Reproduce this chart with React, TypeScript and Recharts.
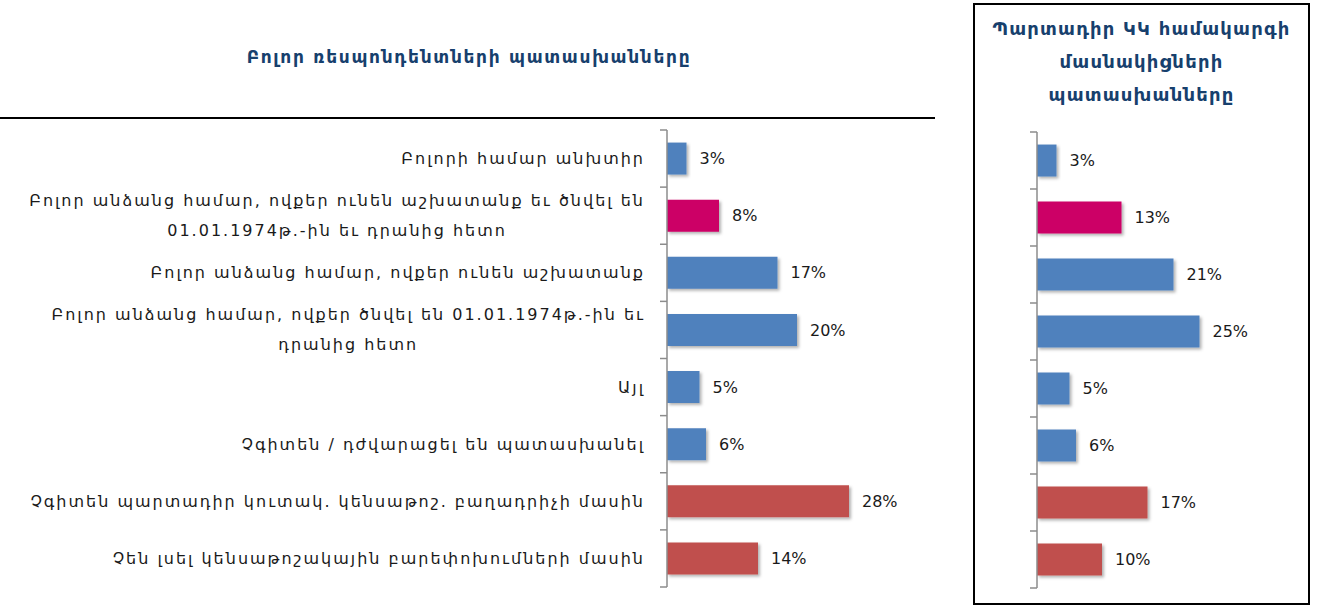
import React from 'react'
import { BarChart, Bar, XAxis, YAxis, Cell, LabelList } from 'recharts'

// answer options (\n marks where the original label wraps)
const categories = [
  'Բոլորի համար անխտիր',
  'Բոլոր անձանց համար, ովքեր ունեն աշխատանք եւ ծնվել են\n01.01.1974թ.-ին եւ դրանից հետո',
  'Բոլոր անձանց համար, ովքեր ունեն աշխատանք',
  'Բոլոր անձանց համար, ովքեր ծնվել են 01.01.1974թ.-ին եւ\nդրանից հետո',
  'Այլ',
  'Չգիտեն / դժվարացել են պատասխանել',
  'Չգիտեն պարտադիր կուտակ. կենսաթոշ. բաղադրիչի մասին',
  'Չեն լսել կենսաթոշակային բարեփոխումների մասին',
]

const allRespondents = [3, 8, 17, 20, 5, 6, 28, 14]
const pensionParticipants = [3, 13, 21, 25, 5, 6, 17, 10]

const leftTitle = 'Բոլոր ռեսպոնդենտների պատասխանները'
const rightTitle = ['Պարտադիր ԿԿ համակարգի', 'մասնակիցների', 'պատասխանները']

const BLUE = '#4f81bd'
const MAGENTA = '#cc0066'
const RED = '#c0504d'
const barColors = [BLUE, MAGENTA, BLUE, BLUE, BLUE, BLUE, RED, RED]

const FONT = '"DejaVu Sans", sans-serif'
const TITLE_COLOR = '#17406d'
const AXIS_COLOR = '#8c8c8c'

const leftData = categories.map((name, i) => ({ name, value: allRespondents[i] }))
const rightData = categories.map((name, i) => ({ name, value: pensionParticipants[i] }))

let ctx: CanvasRenderingContext2D | null = null
function measure(text: string, font: string) {
  if (!ctx) ctx = document.createElement('canvas').getContext('2d')
  if (!ctx) return text.length * 9
  ctx.font = font
  return ctx.measureText(text).width
}

const LABEL_SIZE = 16
const LABEL_SPACING = 2

function CategoryTick(props: any) {
  const { x, y, payload, index, showText, bandHalf } = props
  const half = payload?.offset ?? bandHalf
  const axisX = x + 8
  const lines: string[] = String(payload.value).split('\n')
  const font = `${LABEL_SIZE}px "DejaVu Sans"`
  const widths = lines.map((l) => measure(l, font) + l.length * LABEL_SPACING)
  const maxW = Math.max(...widths)
  const right = axisX - 22
  const lh = 30
  const top = y - ((lines.length - 1) * lh) / 2
  return (
    <g>
      <line x1={axisX - 7} x2={axisX} y1={y - half} y2={y - half} stroke={AXIS_COLOR} strokeWidth={1.5} />
      {index === categories.length - 1 && (
        <line x1={axisX - 7} x2={axisX} y1={y + half} y2={y + half} stroke={AXIS_COLOR} strokeWidth={1.5} />
      )}
      {showText &&
        lines.map((l, i) => (
          <text
            key={i}
            x={right - maxW / 2}
            y={top + i * lh}
            textAnchor="middle"
            dominantBaseline="central"
            fontSize={LABEL_SIZE}
            fontFamily={FONT}
            letterSpacing={LABEL_SPACING}
            fill="#1a1a1a"
          >
            {l}
          </text>
        ))}
    </g>
  )
}

function ShadowDefs({ id }: { id: string }) {
  return (
    <defs>
      <filter id={id} x="-10%" y="-20%" width="130%" height="160%">
        <feDropShadow dx="2" dy="2" stdDeviation="1.5" floodColor="#000" floodOpacity="0.3" />
      </filter>
    </defs>
  )
}

function ResponseBars({
  data,
  width,
  height,
  axisWidth,
  margin,
  showText,
  shadowId,
}: {
  data: { name: string; value: number }[]
  width: number
  height: number
  axisWidth: number
  margin: { top: number; right: number; bottom: number; left: number }
  showText: boolean
  shadowId: string
}) {
  const bandHalf = (height - margin.top - margin.bottom) / data.length / 2
  return (
    <BarChart
      layout="vertical"
      width={width}
      height={height}
      data={data}
      margin={margin}
      barCategoryGap="22%"
    >
      <ShadowDefs id={shadowId} />
      <XAxis type="number" domain={[0, 40]} hide />
      <YAxis
        type="category"
        dataKey="name"
        width={axisWidth}
        axisLine={{ stroke: AXIS_COLOR, strokeWidth: 1.5 }}
        tickLine={false}
        interval={0}
        tick={<CategoryTick showText={showText} bandHalf={bandHalf} />}
      />
      <Bar dataKey="value" isAnimationActive={false} filter={`url(#${shadowId})`}>
        {data.map((_, i) => (
          <Cell key={i} fill={barColors[i]} />
        ))}
        <LabelList
          dataKey="value"
          position="right"
          offset={13}
          fontSize={16}
          fontFamily={FONT}
          fill="#1a1a1a"
          formatter={(v: any) => `${v}%`}
        />
      </Bar>
    </BarChart>
  )
}

export default function App() {
  return (
    <div
      style={{
        position: 'absolute',
        left: 0,
        top: 0,
        width: 1318,
        height: 607,
        background: '#fff',
        fontFamily: FONT,
      }}
    >
      <div
        style={{
          position: 'absolute',
          left: 0,
          width: 938,
          top: 47,
          textAlign: 'center',
          fontWeight: 'bold',
          fontSize: 17,
          letterSpacing: 1.7,
          color: TITLE_COLOR,
        }}
      >
        {leftTitle}
      </div>
      <div style={{ position: 'absolute', left: 0, top: 117, width: 935, height: 2, background: '#000' }} />

      <div style={{ position: 'absolute', left: 0, top: 0 }}>
        <ResponseBars
          data={leftData}
          width={940}
          height={607}
          axisWidth={667}
          margin={{ top: 130, right: 13, bottom: 20, left: 0 }}
          showText
          shadowId="shadowL"
        />
      </div>

      <div
        style={{
          position: 'absolute',
          left: 973,
          top: 3,
          width: 333,
          height: 598,
          border: '2px solid #000',
        }}
      />
      <div
        style={{
          position: 'absolute',
          left: 975,
          width: 333,
          top: 12,
          textAlign: 'center',
          fontWeight: 'bold',
          fontSize: 18,
          letterSpacing: 1.2,
          lineHeight: '33px',
          color: TITLE_COLOR,
        }}
      >
        {rightTitle.map((t) => (
          <div key={t}>{t}</div>
        ))}
      </div>
      <div style={{ position: 'absolute', left: 975, top: 0 }}>
        <ResponseBars
          data={rightData}
          width={332}
          height={607}
          axisWidth={62}
          margin={{ top: 132, right: 10, bottom: 19, left: 0 }}
          showText={false}
          shadowId="shadowR"
        />
      </div>
    </div>
  )
}
